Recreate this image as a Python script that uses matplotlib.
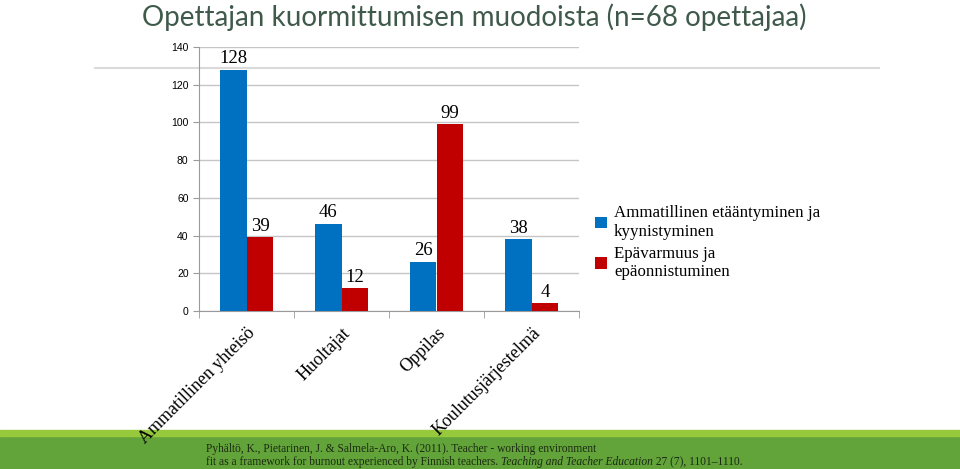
import matplotlib.pyplot as plt
from matplotlib.patches import Rectangle
from matplotlib.lines import Line2D
import numpy as np

categories = ['Ammatillinen yhteisö', 'Huoltajat', 'Oppilas', 'Koulutusjärjestelmä']
etaantyminen = [128, 46, 26, 38]
epavarmuus = [39, 12, 99, 4]
series_names = ['Ammatillinen etääntyminen ja\nkyynistyminen', 'Epävarmuus ja\nepäonnistuminen']
yticks = [0, 20, 40, 60, 80, 100, 120, 140]

blue = '#0070c0'
red = '#c00000'
grid_col = '#c6c6c6'
serif = ['Liberation Serif', 'DejaVu Serif']

fig = plt.figure(figsize=(9.6, 4.69), dpi=100)

# vihreä alapalkki
fig.patches.append(Rectangle((0, 0), 1, 33 / 469, transform=fig.transFigure,
                             color='#63a43a', zorder=-2))
fig.patches.append(Rectangle((0, 33 / 469), 1, 6 / 469, transform=fig.transFigure,
                             color='#97c93d', zorder=-2))
# ohut viiva otsikon alla
fig.lines.append(Line2D([95 / 960, 879 / 960], [1 - 68 / 469, 1 - 68 / 469],
                        transform=fig.transFigure, color='#dadada', lw=1.5, zorder=-1))

fig.text(474 / 960, 1 - 17 / 469, 'Opettajan kuormittumisen muodoista (n=68 opettajaa)',
         ha='center', va='center', fontsize=20, family='Lato', color='#3f5a4b')

ax = fig.add_axes([199 / 960, 1 - 311 / 469, 380 / 960, 264 / 469])
ax.set_facecolor('none')

x = np.arange(len(categories))
w = 0.284
b1 = ax.bar(x - w / 2, etaantyminen, w, color=blue, label=series_names[0], zorder=3)
b2 = ax.bar(x + w / 2, epavarmuus, w, color=red, label=series_names[1], zorder=3)
for bars in (b1, b2):
    ax.bar_label(bars, padding=2, fontsize=13.5, family=serif, color='black')

ax.set_xlim(-0.5, len(categories) - 0.5)
ax.set_ylim(0, 140)
ax.set_yticks(yticks)
ax.tick_params(axis='y', labelsize=7.5, length=4, color='#9a9a9a', pad=3.5)
for t in ax.get_yticklabels():
    t.set_family('Liberation Sans')
ax.yaxis.grid(True, color=grid_col, lw=1, zorder=0)

ax.set_xticks(x)
ax.set_xticklabels(categories, rotation=45, ha='right', va='top',
                   rotation_mode='anchor', fontsize=13, family=serif)
ax.tick_params(axis='x', which='major', length=0, pad=10)
ax.set_xticks(np.arange(len(categories) + 1) - 0.5, minor=True)
ax.tick_params(axis='x', which='minor', length=5, color='#9a9a9a')

for s in ['top', 'right']:
    ax.spines[s].set_visible(False)
ax.spines['left'].set_color('#9a9a9a')
ax.spines['bottom'].set_color('#9a9a9a')

leg = fig.legend(handles=[b1, b2], loc='upper left', bbox_to_anchor=(580 / 960, 1 - 190 / 469),
                 frameon=False, prop={'family': serif, 'size': 12.2},
                 handlelength=0.7, handleheight=0.7, handletextpad=0.4, labelspacing=0.35)

# lähdeviite, kursiivinen osa erikseen
cite_kw = dict(ha='left', va='center', fontsize=8.3, family=serif, color='#1b2a12')
fig.text(206 / 960, 1 - 449 / 469,
         'Pyhältö, K., Pietarinen, J. & Salmela-Aro, K. (2011). Teacher - working environment',
         **cite_kw)
renderer = fig.canvas.get_renderer()
parts = [('fit as a framework for burnout experienced by Finnish teachers. ', 'normal'),
         ('Teaching and Teacher Education', 'italic'),
         (' 27 (7), 1101–1110.', 'normal')]
xpos = 206 / 960
for txt, style in parts:
    t = fig.text(xpos, 1 - 462 / 469, txt, style=style, **cite_kw)
    bb = t.get_window_extent(renderer)
    xpos += bb.width / fig.bbox.width

fig.savefig('out.png', dpi=100)
